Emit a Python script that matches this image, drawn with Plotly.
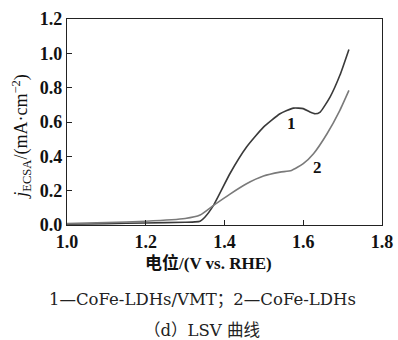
import plotly.graph_objects as go

x1 = [1.00, 1.10, 1.20, 1.30, 1.325, 1.338, 1.350, 1.372, 1.414, 1.456, 1.499, 1.541, 1.575, 1.600, 1.617, 1.630, 1.643, 1.668, 1.693, 1.716]
y1 = [0.005, 0.008, 0.012, 0.016, 0.018, 0.022, 0.045, 0.114, 0.300, 0.454, 0.570, 0.648, 0.681, 0.678, 0.658, 0.648, 0.658, 0.745, 0.872, 1.023]

x2 = [1.00, 1.10, 1.20, 1.30, 1.338, 1.372, 1.414, 1.456, 1.499, 1.541, 1.570, 1.600, 1.626, 1.660, 1.693, 1.716]
y2 = [0.008, 0.014, 0.022, 0.038, 0.058, 0.114, 0.180, 0.240, 0.285, 0.308, 0.318, 0.357, 0.415, 0.530, 0.668, 0.784]

labels = ["1", "2"]
label_x = [1.571, 1.637]
label_y = [0.59, 0.337]

FONT = "Liberation Serif, Noto Sans CJK SC"
CAPFONT = "DejaVu Serif, Noto Sans CJK SC"

fig = go.Figure()
fig.add_trace(go.Scatter(x=x1, y=y1, mode="lines", line=dict(color="#3a3a3a", width=1.6, shape="spline", smoothing=0.5), showlegend=False))
fig.add_trace(go.Scatter(x=x2, y=y2, mode="lines", line=dict(color="#7a7a7a", width=1.6, shape="spline", smoothing=0.5), showlegend=False))

for t, xx, yy in zip(labels, label_x, label_y):
    fig.add_annotation(x=xx, y=yy, text="<b>" + t + "</b>", showarrow=False,
                       font=dict(family=FONT, size=17, color="#111"))

# axis titles as annotations for exact placement
fig.add_annotation(xref="paper", yref="paper", x=0.45, y=-0.185, yanchor="middle",
                   text="<b>电位/(V vs. RHE)</b>", showarrow=False,
                   font=dict(family=FONT, size=17, color="#111"))
fig.add_annotation(xref="paper", yref="paper", x=-0.145, y=0.43, xanchor="center", yanchor="middle", textangle=-90,
                   text="<i>j</i><sub>ECSA</sub>/(mA·cm<sup>−2</sup>)", showarrow=False,
                   font=dict(family=FONT, size=18, color="#111"))

fig.add_annotation(xref="paper", yref="paper", x=0.43, y=-0.364, yanchor="middle", text="1—CoFe-LDHs/VMT；2—CoFe-LDHs",
                   showarrow=False, font=dict(family=CAPFONT, size=16.5, color="#222"))
fig.add_annotation(xref="paper", yref="paper", x=0.43, y=-0.51, yanchor="middle", text="（d）LSV 曲线",
                   showarrow=False, font=dict(family=CAPFONT, size=16.5, color="#222"))

fig.update_layout(
    width=398, height=340,
    margin=dict(l=67, r=16, t=19, b=115, autoexpand=False),
    plot_bgcolor="white", paper_bgcolor="white",
    font=dict(family=FONT, size=16, color="#111"),
)
fig.update_xaxes(range=[1.0, 1.8], tickvals=[1.0, 1.2, 1.4, 1.6, 1.8], ticktext=["<b>1.0</b>", "<b>1.2</b>", "<b>1.4</b>", "<b>1.6</b>", "<b>1.8</b>"],
                 ticks="inside", ticklen=5, tickcolor="#222", showline=True, linecolor="#222", linewidth=1.2,
                 mirror=True, showgrid=False, zeroline=False, automargin=False,
                 tickfont=dict(family=FONT, size=18))
fig.update_yaxes(range=[0.0, 1.2], tickvals=[0.0, 0.2, 0.4, 0.6, 0.8, 1.0, 1.2], ticktext=["<b>0.0</b>", "<b>0.2</b>", "<b>0.4</b>", "<b>0.6</b>", "<b>0.8</b>", "<b>1.0</b>", "<b>1.2</b>"],
                 ticks="inside", ticklen=5, tickcolor="#222", showline=True, linecolor="#222", linewidth=1.2,
                 mirror=True, showgrid=False, zeroline=False, automargin=False,
                 tickfont=dict(family=FONT, size=18))

fig.write_html("out.html")
